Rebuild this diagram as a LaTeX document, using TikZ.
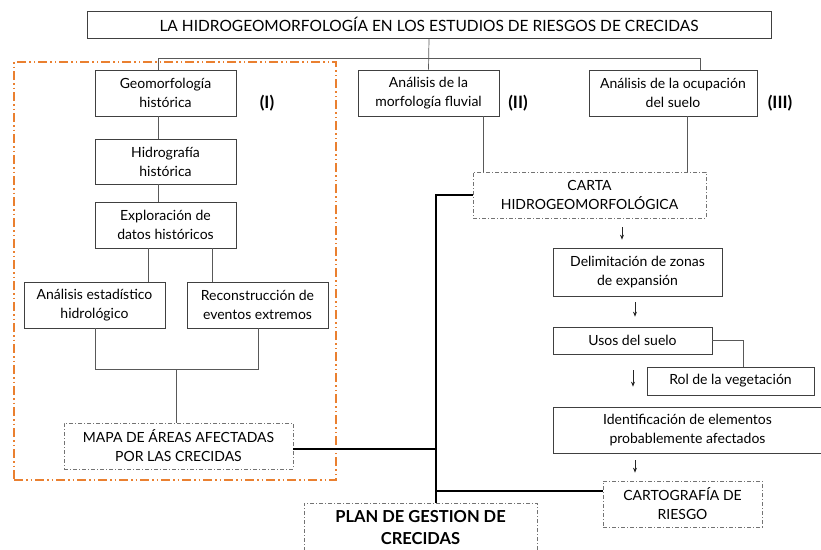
\documentclass[tikz,border=0pt]{standalone}
\usepackage{fontspec}
\setmainfont{Lato}
\usetikzlibrary{arrows.meta}
\definecolor{naranja}{RGB}{234,128,48}

\begin{document}
\begin{tikzpicture}[x=1pt,y=-1pt,>={Stealth[length=5pt,width=4pt]},
  caja/.style={draw=black!75,line width=0.7pt,align=center,inner sep=0pt,font=\fontsize{14}{19}\selectfont},
  caja punteada/.style={caja,draw=black!55,dash pattern=on 4pt off 2pt on 1pt off 2pt},
  linea/.style={draw=black!65,line width=0.7pt},
  gruesa/.style={line width=1.8pt},
  flecha/.style={->,black!85,line width=0.7pt},
  etiqueta/.style={font=\fontsize{17}{19}\selectfont\bfseries}]

\useasboundingbox (0,0) rectangle (821,549);

% bloque (I)
\node[draw=naranja,line width=1.5pt,dash pattern=on 9pt off 3pt on 1.5pt off 3pt on 1.5pt off 3pt,
      minimum width=322,minimum height=418] (bloque) at (175,271) {};

\node[caja,minimum width=684,minimum height=27,font=\fontsize{15.5}{17}\selectfont] (titulo) at (429,24.5)
  {LA HIDROGEOMORFOLOGÍA EN LOS ESTUDIOS DE RIESGOS DE CRECIDAS};

\node[caja,minimum width=141,minimum height=46] (geo) at (165.5,93) {Geomorfología\\histórica};
\node[caja,minimum width=141,minimum height=45] (hidro) at (165.5,161.5) {Hidrografía\\histórica};
\node[caja,minimum width=141,minimum height=46] (explo) at (165.5,225) {Exploración de\\datos históricos};
\node[caja,minimum width=141,minimum height=46] (estad) at (94.5,305) {Análisis estadístico\\hidrológico};
\node[caja,minimum width=141,minimum height=46] (recon) at (257.5,305) {Reconstrucción de\\eventos extremos};
\node[caja punteada,minimum width=229,minimum height=46] (mapa) at (178.5,446) {MAPA DE ÁREAS AFECTADAS\\POR LAS CRECIDAS};

\node[caja,minimum width=141,minimum height=46] (morf) at (428.5,93) {Análisis de la\\morfología fluvial};
\node[caja,minimum width=168,minimum height=46] (ocup) at (673,93) {Análisis de la ocupación\\del suelo};
\node[caja punteada,minimum width=233,minimum height=46] (carta) at (589.5,195) {CARTA\\HIDROGEOMORFOLÓGICA};
\node[caja,minimum width=169,minimum height=48] (delim) at (637.5,272) {Delimitación de zonas\\de expansión};
\node[caja,minimum width=159,minimum height=27] (usos) at (632.5,340.5) {Usos del suelo};
\node[caja,minimum width=167,minimum height=28] (rol) at (730.5,381) {Rol de la vegetación};
\node[caja,minimum width=269,minimum height=46] (ident) at (687.5,430) {Identificación de elementos\\probablemente afectados};
\node[caja punteada,minimum width=159,minimum height=46] (carto) at (682.5,504) {CARTOGRAFÍA DE\\RIESGO};
\node[caja punteada,minimum width=233,minimum height=48,font=\fontsize{16.5}{22}\selectfont\bfseries,
      text depth=0pt] (plan) at (420.5,527) {PLAN DE GESTION DE\\CRECIDAS};

\node[etiqueta] (uno) at (267,103) {(I)};
\node[etiqueta] (dos) at (518,103) {(II)};
\node[etiqueta] (tres) at (780,103) {(III)};

\coordinate (izq) at (158,58);
\coordinate (der) at (700,58);
\coordinate (b1) at (148,0);
\coordinate (b2) at (212,0);
\coordinate (u1) at (95,369);
\coordinate (u2) at (258,369);
\coordinate (u3) at (176,369);
\coordinate (c1) at (483,0);
\coordinate (c2) at (687,0);
\coordinate (eje) at (436,0);
\coordinate (r1) at (743,0);

\draw[linea] (titulo.south) -- (morf.north);
\draw[linea] (geo.north -| izq) -- (izq) -- (der) -- (ocup.north -| der);
\draw[linea] (geo.south -| izq) -- (hidro.north -| izq);
\draw[linea] (hidro.south -| izq) -- (explo.north -| izq);
\draw[linea] (explo.south -| b1) -- (estad.north -| b1);
\draw[linea] (explo.south -| b2) -- (recon.north -| b2);
\draw[linea] (estad.south -| u1) -- (u1) -- (u2) -- (recon.south -| u2);
\draw[linea] (u3) -- (mapa.north -| u3);

\draw[linea] (morf.south -| c1) -- (carta.north -| c1);
\draw[linea] (ocup.south -| c2) -- (carta.north -| c2);
\draw[linea] (usos.east) -| (rol.north -| r1);

\draw[gruesa] ([yshift=-3pt]mapa.east) -- ([yshift=-3pt]mapa.east -| eje);
\draw[gruesa] (carta.west) -- (carta.west -| eje) -- (plan.north -| eje);
\draw[line width=1.3pt] ([yshift=13pt]carto.west) -- ([yshift=13pt]carto.west -| eje);

\draw[flecha,shorten <=9pt,shorten >=8pt] (carta.south -| 622,0) -- (delim.north -| 622,0);
\draw[flecha,shorten <=6pt,shorten >=10pt] (delim.south -| 635,0) -- (usos.north -| 635,0);
\draw[flecha,shorten <=16pt,shorten >=20pt] (usos.south -| 633,0) -- (ident.north -| 633,0);
\draw[flecha,shorten <=7pt,shorten >=8pt] (ident.south -| 635,0) -- (carto.north -| 635,0);
\end{tikzpicture}
\end{document}
